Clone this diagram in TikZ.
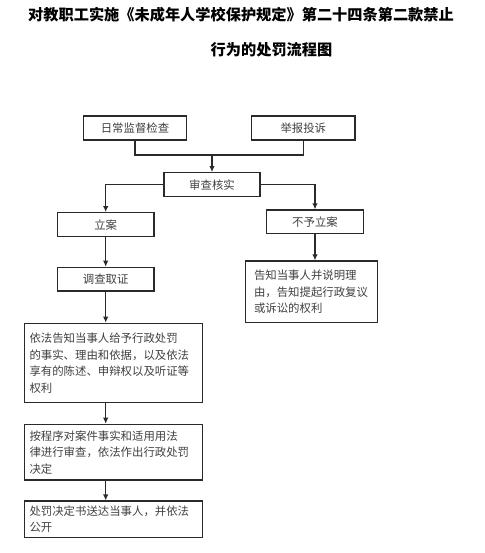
\documentclass[tikz,border=0pt]{standalone}
\usepackage{fontspec}
\setmainfont{Noto Sans CJK SC}
\usetikzlibrary{arrows.meta}
\definecolor{txt}{HTML}{404040}
\definecolor{ln}{HTML}{2A2A2A}
\tikzset{
  box/.style={draw=ln, line width=1.3pt, rectangle, inner sep=0pt, text=txt,
    font=\fontsize{11.4}{16.5}\selectfont},
  mbox/.style={box, align=left},
  arrow/.style={draw=ln, line width=1.2pt, -{Latex[length=6pt,width=5.5pt]}},
  conn/.style={draw=ln, line width=1.2pt},
  ttl/.style={font=\fontsize{15.2}{18}\selectfont\bfseries, text=black, inner sep=0pt}
}
\begin{document}
\begin{tikzpicture}[x=1pt,y=-1pt]
\useasboundingbox (0,0) rectangle (484,553);
\node[ttl] (t1) at (241,15) {对教职工实施《未成年人学校保护规定》第二十四条第二款禁止};
\node[ttl] (t2) at (271.5,50) {行为的处罚流程图};

\node[box, minimum width=103.4pt, minimum height=24pt] (a) at (135,128) {日常监督检查};
\node[box, minimum width=103.3pt, minimum height=24pt] (b) at (303.3,128) {举报投诉};
\node[box, minimum width=96pt, minimum height=24pt] (c) at (212,184.7) {审查核实};
\node[box, minimum width=96.7pt, minimum height=24pt] (d) at (105.7,224.7) {立案};
\node[box, minimum width=96.7pt, minimum height=23.3pt] (e) at (315,221.7) {不予立案};
\node[mbox, minimum width=131.6pt, minimum height=61.3pt, text width=115pt, inner xsep=8pt] (f) at (311.5,291.7) {告知当事人并说明理\\由，告知提起行政复议\\或诉讼的权利};
\node[mbox, minimum width=178.4pt, minimum height=79.4pt, text width=168pt, inner xsep=5pt] (h) at (113.5,363) {依法告知当事人给予行政处罚\\的事实、理由和依据，以及依法\\享有的陈述、申辩权以及听证等\\权利};
\node[box, minimum width=96.7pt, minimum height=23.7pt] (g) at (105.7,279.2) {调查取证};
\node[mbox, minimum width=178.4pt, minimum height=55.7pt, text width=168pt, inner xsep=5pt] (i) at (113.5,452.2) {按程序对案件事实和适用用法\\律进行审查，依法作出行政处罚\\决定};
\node[mbox, minimum width=178.4pt, minimum height=36.3pt, text width=168pt, inner xsep=5pt] (j) at (113.5,519.2) {处罚决定书送达当事人，并依法\\公开};

\coordinate (m) at (212,155);
\draw[conn] (a.south) |- (m) -| (b.south);
\draw[arrow] (m) -- (c.north);
\draw[arrow] (c.west) -| (d.north);
\draw[arrow] (c.east) -| (e.north);
\draw[arrow] (e.south) -- (e.south |- f.north);
\draw[arrow] (d.south) -- (g.north);
\draw[arrow] (g.south) -- (g.south |- h.north);
\draw[arrow] (h.south -| g.south) -- (i.north -| g.south);
\draw[arrow] (i.south -| g.south) -- (j.north -| g.south);
\end{tikzpicture}
\end{document}
